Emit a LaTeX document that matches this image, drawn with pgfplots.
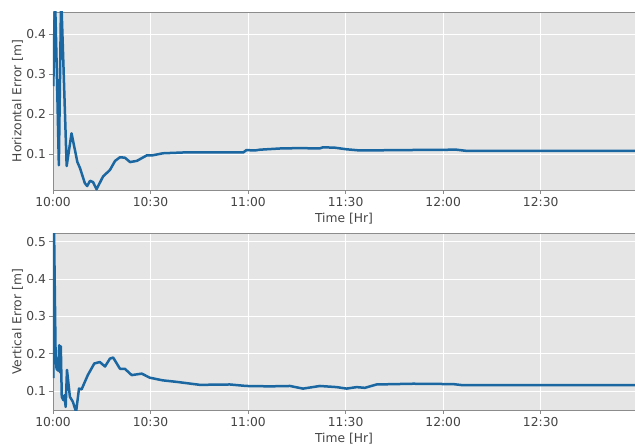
\documentclass[border=0pt]{standalone}
\usepackage{pgfplots}
\pgfplotsset{compat=1.18}
\usepackage{fontspec}
\setmainfont{DejaVu Sans}
\definecolor{bgc}{HTML}{E5E5E5}
\definecolor{linec}{HTML}{1A67A2}
\definecolor{bordc}{HTML}{8C8C8C}
\definecolor{txtc}{HTML}{444444}
\begin{document}
\begin{tikzpicture}[x=1pt,y=1pt]
\path[use as bounding box] (0,0) rectangle (635,445);
\pgfplotsset{
  myax/.style={
    width=582pt, scale only axis,
    xmin=0, xmax=179,
    xtick={0,30,60,90,120,150},
    xticklabels={10:00,10:30,11:00,11:30,12:00,12:30},
    axis background/.style={fill=bgc},
    grid=major,
    major grid style={white, line width=0.9pt},
    axis line style={bordc, line width=0.9pt},
    tick style={bordc, line width=0.8pt},
    tick align=outside,
    major tick length=3.5pt,
    xtick pos=bottom, ytick pos=left,
    /pgf/number format/assume math mode=true,
    /pgf/number format/fixed,
    /pgf/number format/precision=1,
    ticklabel style={font=\fontsize{12.3}{14}\selectfont, text=txtc},
    label style={font=\fontsize{12.3}{14}\selectfont, text=txtc},
    xlabel={Time [Hr]},
    xlabel style={at={(axis description cs:0.5,0)}, anchor=center, yshift=-28.5pt},
    ylabel style={at={(axis description cs:-0.061,0.5)}, anchor=center},
    xticklabel style={yshift=-0.5pt},
  }
}
\begin{axis}[myax, at={(53pt,255pt)}, anchor=south west, height=178pt,
  ymin=0.01, ymax=0.456, ytick={0.1,0.2,0.3,0.4},
  ylabel={Horizontal Error [m]}]
\addplot[linec, line width=2.5pt, line join=round] coordinates {
(0.1,0.27) (0.6,0.50) (1.2,0.30) (1.8,0.072) (2.5,0.50) (3.3,0.30) (4.2,0.07)
(5.7,0.152) (6.5,0.12) (7.5,0.08) (8.3,0.065) (9.8,0.027) (10.5,0.02)
(11.4,0.033) (12.3,0.03) (13.4,0.012) (15.4,0.044) (17.5,0.06) (19.1,0.083)
(20.6,0.092) (22.1,0.091) (23.7,0.08) (25.8,0.083) (28.9,0.097) (30.7,0.097)
(33.8,0.102) (40,0.104) (45.2,0.104) (50,0.104) (58.5,0.104) (59.5,0.11)
(62.1,0.109) (63.6,0.111) (69.8,0.114) (75.9,0.115) (82,0.114) (83,0.117)
(86.7,0.116) (90.3,0.112) (94.4,0.109) (106.7,0.110) (124.1,0.111)
(127.2,0.108) (150,0.108) (179,0.108)
};
\end{axis}
\begin{axis}[myax, at={(53pt,34.7pt)}, anchor=south west, height=177pt,
  ymin=0.049, ymax=0.522, ytick={0.1,0.2,0.3,0.4,0.5},
  ylabel={Vertical Error [m]}]
\addplot[linec, line width=2.5pt, line join=round] coordinates {
(0.1,0.135) (0.3,0.55) (0.8,0.196) (1.1,0.16) (1.6,0.155) (1.9,0.223)
(2.2,0.15) (2.4,0.22) (2.7,0.085) (3.2,0.076) (3.5,0.089) (3.9,0.058)
(4.3,0.157) (5.2,0.085) (6.1,0.072) (7.1,0.045) (8.0,0.107) (8.8,0.105)
(9.8,0.125) (10.7,0.143) (12.7,0.174) (14.4,0.178) (16.0,0.166) (17.5,0.187)
(18.5,0.19) (20.6,0.16) (22.1,0.16) (24.2,0.143) (27.3,0.147) (29.8,0.136)
(33.8,0.129) (38.0,0.125) (45.2,0.117) (54.4,0.118) (59.5,0.114)
(66.7,0.113) (72.9,0.114) (76.9,0.107) (82.1,0.114) (87.2,0.111)
(90.3,0.107) (93.4,0.111) (95.9,0.109) (99.5,0.118) (110.8,0.12)
(123.1,0.119) (126.1,0.116) (150,0.116) (179,0.116)
};
\end{axis}
\end{tikzpicture}
\end{document}
